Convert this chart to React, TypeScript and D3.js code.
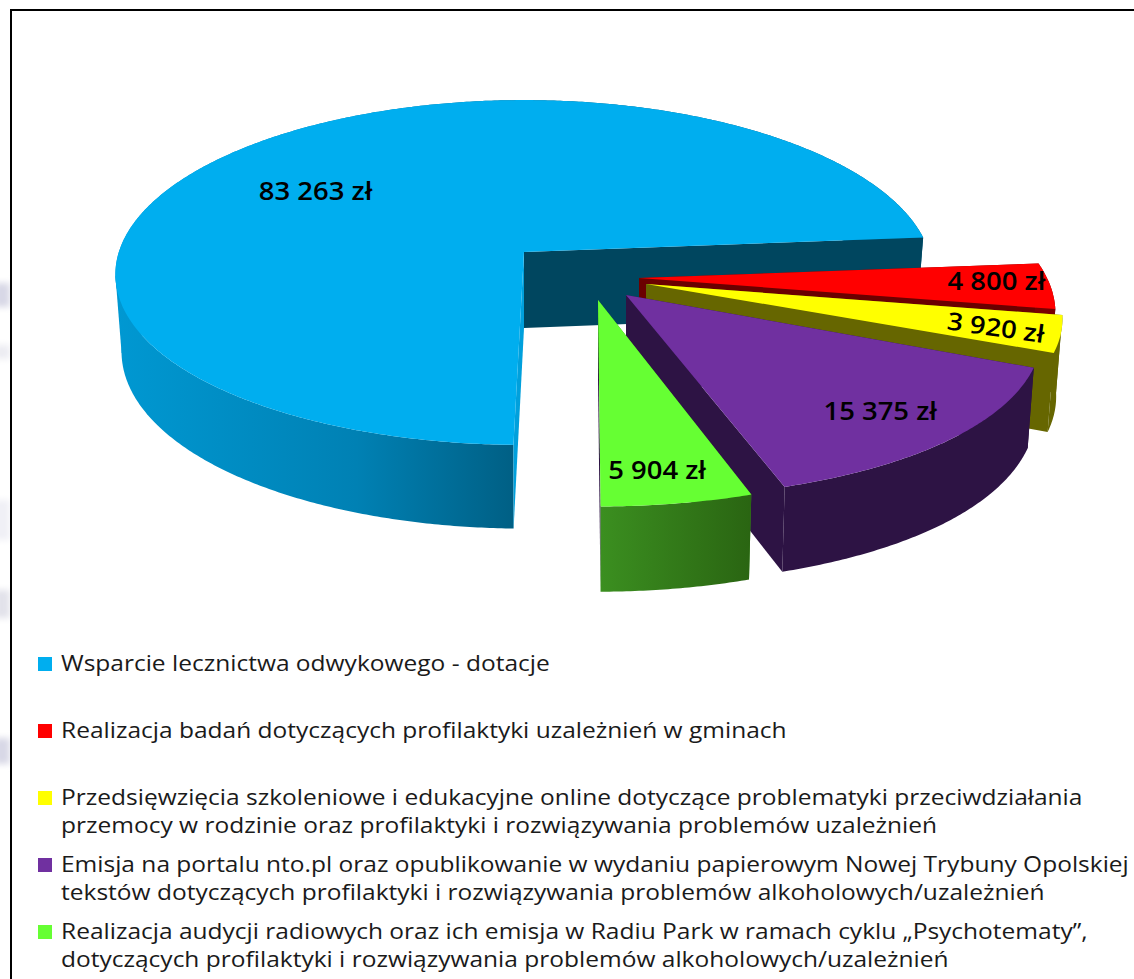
import React from 'react';
import * as d3 from 'd3';

// Data
const categories = [
  'Wsparcie lecznictwa odwykowego - dotacje',
  'Realizacja badań dotyczących profilaktyki uzależnień w gminach',
  'Przedsięwzięcia szkoleniowe i edukacyjne online dotyczące problematyki przeciwdziałania|przemocy w rodzinie oraz profilaktyki i rozwiązywania problemów uzależnień',
  'Emisja na portalu nto.pl oraz opublikowanie w wydaniu papierowym Nowej Trybuny Opolskiej|tekstów dotyczących profilaktyki i rozwiązywania problemów alkoholowych/uzależnień',
  'Realizacja audycji radiowych oraz ich emisja w Radiu Park w ramach cyklu „Psychotematy”,|dotyczących profilaktyki i rozwiązywania problemów alkoholowych/uzależnień',
];
const values = [83263, 4800, 3920, 15375, 5904];
const topColors = ['#00aeef', '#ff0000', '#ffff00', '#7030a0', '#66ff33'];
const startFaceColors = ['#00a0dc', '#6b0000', '#666600', '#2d1344', '#3b8f20'];
const endFaceColors = ['#00465f', '#6b0000', '#666600', '#2d1344', '#2d1344'];
const wallFills = ['url(#wallBlue)', '#7a0000', '#666600', '#2d1344', 'url(#wallGreen)'];

// Layout of the exploded slices (apex of each slice on the page, plus scale)
const apexes = [[524, 252], [639, 278], [646, 284], [626, 295], [598, 300]];
const xScales = [0.993, 1, 1, 1, 1];
const yScales = [1, 1, 1, 1.055, 1.07];
const wallScales = [1, 1, 1, 1.02, 1.02];
const xPerspective = [0.13, 0.2, 0.2, 0.2, 0.17];
// small per-slice correction of the cut angles, the near edges splay apart in 3D
const angleTweaks = [[0.9, 0], [0, 0], [0, 0], [0, 0], [0, -0.7]];
const labelPolar = [[0.657, 214.8, 0], [0.873, 1.2, 0], [0.852, 17, 8], [0.813, 47.6, 0], [0.85, 81.6, 0]];
const smudges = [[283, 24, '#d8d8e6'], [345, 14, '#ececf2'], [500, 40, '#f0f0f6'], [590, 28, '#e2e2ea'], [738, 26, '#d8d8e6']] as const;

const RX = 408;
const RY = 170;
const KY = 0.119;
const WALL = 76;
const rad = Math.PI / 180;

const money = (v: number) => d3.format(',')(v).replace(/,/g, ' ') + ' zł';

// Approximates the perspective of the tilted 3D pie. Angle in degrees, clockwise from 3 o'clock.
const project = (i: number, r: number, deg: number, down = 0): [number, number] => {
  const X = r * Math.cos(deg * rad);
  const Y = r * Math.sin(deg * rad);
  const [ax, ay] = apexes[i];
  const shrink = down ? 0.985 : 1;
  const h = down * WALL * wallScales[i] * (1 + 0.1 * Y);
  return [
    ax + (RX * xScales[i] * X * shrink) / (1 - xPerspective[i] * Y),
    ay + (RY * yScales[i] * Y) / (1 - KY * Y) + h,
  ];
};

const pie = d3
  .pie<number>()
  .sort(null)
  .startAngle(180.4 * rad)
  .endAngle(540.4 * rad);

const line = d3.line();

const App: React.FC = () => {
  const arcs = pie(values);

  return (
    <svg
      width={1134}
      height={979}
      style={{ position: 'absolute', left: 0, top: 0, background: '#fff' }}
      fontFamily="'Open Sans', sans-serif"
    >
      <defs>
        <linearGradient id="wallBlue" gradientUnits="userSpaceOnUse" x1={116} x2={516} y1={0} y2={0}>
          <stop offset="0" stopColor="#0098d2" />
          <stop offset="0.6" stopColor="#0081b4" />
          <stop offset="1" stopColor="#005f84" />
        </linearGradient>
        <linearGradient id="wallGreen" gradientUnits="userSpaceOnUse" x1={600} x2={750} y1={0} y2={0}>
          <stop offset="0" stopColor="#3b8f20" />
          <stop offset="1" stopColor="#2a6512" />
        </linearGradient>
        <filter id="soft" x="-50%" y="-50%" width="200%" height="200%">
          <feGaussianBlur stdDeviation="3" />
        </filter>
      </defs>

      {smudges.map(([y, h, c]) => (
        <rect key={y} x={-6} y={y} width={16} height={h} fill={c} filter="url(#soft)" />
      ))}
      <rect x={11} y={10} width={1140} height={990} fill="#fff" stroke="#000" strokeWidth={2} />

      {arcs.map((a, i) => {
        const start = a.startAngle / rad - 90 + angleTweaks[i][0];
        const end = a.endAngle / rad - 90 + angleTweaks[i][1];
        const angles = [...d3.range(start, end, 0.5), end];
        const rimTop = angles.map(d => project(i, 1, d));
        const rimBottom = angles.map(d => project(i, 1, d, 1));
        const apexTop = project(i, 0, 0);
        const apexBottom = project(i, 0, 0, 1);
        const face = (deg: number) =>
          line([apexTop, project(i, 1, deg), project(i, 1, deg, 1), apexBottom]) + 'Z';
        const wall = <path d={line([...rimTop, ...[...rimBottom].reverse()]) + 'Z'} fill={wallFills[i]} />;
        // straight silhouette edge where the wall turns away on the left of the big slice
        const k = d3.leastIndex(rimTop, p => p[0]) as number;
        const back = Math.max(0, k - 40);
        return (
          <g key={categories[i]}>
            {/* the big slice opens towards the viewer, so its cut faces go over the wall */}
            {i === 0 && wall}
            {i === 0 && (
              <path
                d={line([rimTop[k], rimBottom[k], rimBottom[back], rimTop[back]]) + 'Z'}
                fill={wallFills[i]}
              />
            )}
            <path d={face(start)} fill={startFaceColors[i]} />
            <path d={face(end)} fill={endFaceColors[i]} />
            {i !== 0 && wall}
            <path d={line([apexTop, ...rimTop]) + 'Z'} fill={topColors[i]} />
          </g>
        );
      })}

      {values.map((v, i) => {
        const [x, y] = project(i, labelPolar[i][0], labelPolar[i][1]);
        return (
          <text
            key={v}
            dy="0.35em"
            textAnchor="middle"
            fontSize={24.5}
            fontWeight={600}
            fill="#000"
            transform={`translate(${x},${y}) rotate(${labelPolar[i][2]}) scale(1.12,1)`}
          >
            {money(v)}
          </text>
        );
      })}

      {categories.map((c, i) => {
        const y = 664 + i * 67;
        return (
          <g key={c}>
            <rect x={38} y={y - 7} width={14} height={14} fill={topColors[i]} />
            {c.split('|').map((t, j) => (
              <text
                key={t}
                fontSize={22}
                fill="#1a1a1a"
                transform={`translate(61,${y + 7 + j * 28}) scale(1.115,1)`}
              >
                {t}
              </text>
            ))}
          </g>
        );
      })}
    </svg>
  );
};

export default App;
